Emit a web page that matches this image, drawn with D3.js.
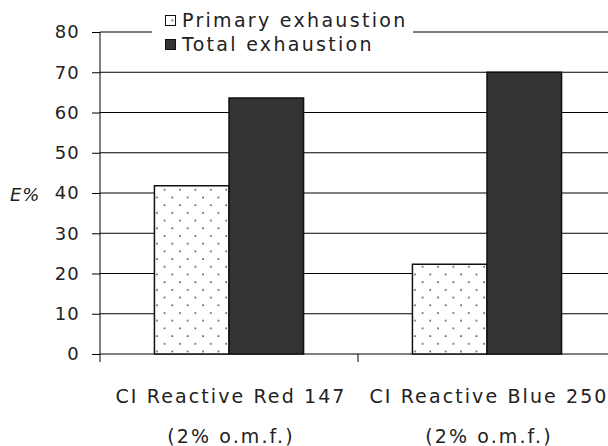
<!DOCTYPE html>
<html>
<head>
<meta charset="utf-8">
<script src="https://cdn.jsdelivr.net/npm/d3@7"></script>
<style>
  body { margin: 0; background: #fff; }
  svg { display: block; font-family: "DejaVu Sans", sans-serif; }
</style>
</head>
<body>
<div id="chart-area"></div>
<script>
// data
var categories = ["CI Reactive Red 147|(2% o.m.f.)", "CI Reactive Blue 250|(2% o.m.f.)"];
var series = ["Primary exhaustion", "Total exhaustion"];
var primary = [41.8, 22.3];
var total = [63.6, 70.0];
var yTicks = [0, 10, 20, 30, 40, 50, 60, 70, 80];

var W = 608, H = 446;
var mLeft = 100, mRight = 616, mTop = 32, mBottom = 354;

var svg = d3.select("#chart-area").append("svg")
    .attr("width", W).attr("height", H);

// dotted fill for primary bars
var pat = svg.append("defs").append("pattern")
    .attr("id", "dots")
    .attr("patternUnits", "userSpaceOnUse")
    .attr("width", 15.4).attr("height", 15.4)
    .attr("x", 0).attr("y", 2);
pat.append("rect").attr("width", 15.4).attr("height", 15.4).attr("fill", "#fff");
pat.append("circle").attr("cx", 3).attr("cy", 3).attr("r", 0.85).attr("fill", "#222");
pat.append("circle").attr("cx", 10.7).attr("cy", 10.7).attr("r", 0.85).attr("fill", "#222");

var y = d3.scaleLinear().domain([0, 80]).range([mBottom, mTop]);
var x = d3.scaleBand().domain(categories).range([mLeft, mRight]);
var x1 = d3.scaleBand().domain(series).range([0, x.bandwidth()])
    .paddingInner(0).paddingOuter(0.73);

// gridlines
svg.append("g").selectAll("line").data(yTicks).enter().append("line")
    .attr("x1", mLeft).attr("x2", mRight)
    .attr("y1", function(d){ return y(d); }).attr("y2", function(d){ return y(d); })
    .attr("stroke", "#000").attr("stroke-width", 1);

// y axis
var yAxis = svg.append("g")
    .attr("transform", "translate(" + mLeft + ",0)")
    .call(d3.axisLeft(y).tickValues(yTicks).tickSize(8).tickPadding(12).tickFormat(d3.format("d")));
yAxis.select(".domain").remove();
yAxis.selectAll(".tick line").attr("stroke", "#000");
yAxis.selectAll(".tick text").attr("font-size", "18px").attr("fill", "#222")
    .attr("letter-spacing", "1.2px")
    .attr("font-family", "DejaVu Sans, sans-serif");
svg.append("line").attr("x1", mLeft).attr("x2", mLeft)
    .attr("y1", mTop).attr("y2", mBottom + 8).attr("stroke", "#000");

// category dividers
svg.append("g").selectAll("line").data(categories.slice(1)).enter().append("line")
    .attr("x1", function(d){ return x(d); }).attr("x2", function(d){ return x(d); })
    .attr("y1", mBottom).attr("y2", mBottom + 8).attr("stroke", "#000");

// bars
var groups = svg.append("g").selectAll("g").data(categories).enter().append("g")
    .attr("transform", function(d){ return "translate(" + x(d) + ",0)"; });

groups.append("rect")
    .attr("x", x1(series[0]))
    .attr("y", function(d, i){ return y(primary[i]); })
    .attr("width", x1.bandwidth())
    .attr("height", function(d, i){ return mBottom - y(primary[i]); })
    .attr("fill", "url(#dots)").attr("stroke", "#111").attr("stroke-width", 1.5);

groups.append("rect")
    .attr("x", x1(series[1]))
    .attr("y", function(d, i){ return y(total[i]); })
    .attr("width", x1.bandwidth())
    .attr("height", function(d, i){ return mBottom - y(total[i]); })
    .attr("fill", "#333").attr("stroke", "#111").attr("stroke-width", 1.5);

// category labels
var lab = svg.append("g").selectAll("text").data(categories).enter().append("text")
    .attr("text-anchor", "middle")
    .attr("font-size", "19px").attr("fill", "#222")
    .attr("letter-spacing", "2.1px");
lab.append("tspan").attr("y", 403)
    .attr("x", function(d){ return x(d) + x.bandwidth() / 2 + 2; })
    .text(function(d){ return d.split("|")[0]; });
lab.append("tspan").attr("y", 443)
    .attr("x", function(d){ return x(d) + x.bandwidth() / 2 + 2; })
    .text(function(d){ return d.split("|")[1]; });

// y title
svg.append("text").attr("x", 10).attr("y", 201)
    .attr("font-size", "18px").attr("font-style", "italic").attr("fill", "#222")
    .attr("letter-spacing", "0.8px")
    .text("E%");

// legend
var leg = svg.append("g");
leg.append("rect").attr("x", 152).attr("y", 6).attr("width", 261).attr("height", 52).attr("fill", "#fff");
series.forEach(function(s, i){
    leg.append("rect").attr("x", 165.5).attr("y", 15.5 + i * 24).attr("width", 10).attr("height", 10)
        .attr("fill", i === 0 ? "url(#dots)" : "#333").attr("stroke", "#111");
    leg.append("text").attr("x", 182).attr("y", 27 + i * 24)
        .attr("font-size", "19px").attr("fill", "#222")
        .attr("letter-spacing", "2.3px").text(s);
});
</script>
</body>
</html>
